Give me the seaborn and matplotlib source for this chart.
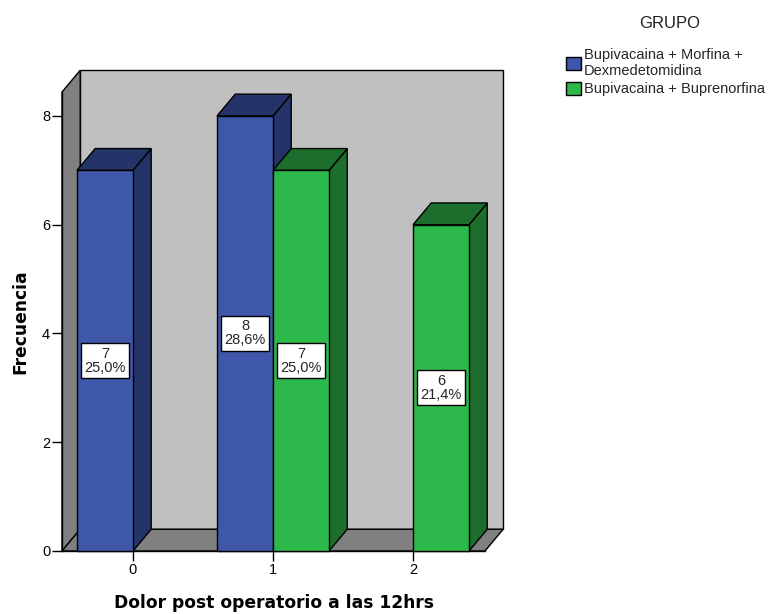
import numpy as np
import pandas as pd
import matplotlib
matplotlib.use("Agg")
import matplotlib.pyplot as plt
from matplotlib.patches import Polygon, Rectangle
from matplotlib.colors import to_rgba
import seaborn as sns

# ---- data ----
categories = ["0", "1", "2"]
groups = ["Bupivacaina + Morfina + Dexmedetomidina", "Bupivacaina + Buprenorfina"]
legend_labels = ["Bupivacaina + Morfina +\nDexmedetomidina", "Bupivacaina + Buprenorfina"]
counts_morfina = [7, 8, 0]
counts_bupren = [0, 7, 6]
yticks = [0, 2, 4, 6, 8]

# ---- style ----
front_colors = ["#3F57A8", "#2DB84B"]
dark_colors = ["#253468", "#1D6E2D"]
wall_back = "#C0C0C0"
wall_side = "#808080"

rows = []
for g, vals in zip(groups, [counts_morfina, counts_bupren]):
    for c, v in zip(categories, vals):
        if v > 0:
            rows.append({"dolor": c, "grupo": g, "freq": v})
df = pd.DataFrame(rows)
total = sum(counts_morfina) + sum(counts_bupren)

sns.set_theme(style="ticks")
plt.rcParams['font.family'] = ['Liberation Sans', 'DejaVu Sans']

fig = plt.figure(figsize=(7.72, 6.14), dpi=100)
ax = fig.add_axes([62 / 772, 1 - 551 / 614, 423 / 772, 459 / 614])

sns.barplot(data=df, x="dolor", y="freq", hue="grupo", order=categories,
            hue_order=groups, palette=front_colors, width=0.8, dodge=True,
            edgecolor="black", linewidth=1, errorbar=None, saturation=1, ax=ax)

bars = [p for p in ax.patches if isinstance(p, Rectangle) and p.get_height() > 0]
bars.sort(key=lambda p: p.get_x())

xlim = (-0.507, 2.514)
ylim = (0, 8.44)
ax.set_xlim(*xlim)
ax.set_ylim(*ylim)
dx, dy = 0.13, 0.40

x0, x1 = xlim
y0, y1 = ylim
ax.add_patch(Polygon([(x0 + dx, y0 + dy), (x1 + dx, y0 + dy), (x1 + dx, y1 + dy), (x0 + dx, y1 + dy)],
                     closed=True, fc=wall_back, ec="black", lw=1, zorder=0.5, clip_on=False))
ax.add_patch(Polygon([(x0, y0), (x0 + dx, y0 + dy), (x0 + dx, y1 + dy), (x0, y1)],
                     closed=True, fc=wall_side, ec="black", lw=1, zorder=0.6, clip_on=False))
ax.add_patch(Polygon([(x0, y0), (x1, y0), (x1 + dx, y0 + dy), (x0 + dx, y0 + dy)],
                     closed=True, fc=wall_side, ec="black", lw=1, zorder=0.6, clip_on=False))

for i, b in enumerate(bars):
    x, w, h = b.get_x(), b.get_width(), b.get_height()
    fc = b.get_facecolor()
    k = 0 if np.allclose(fc, to_rgba(front_colors[0]), atol=0.02) else 1
    dark = dark_colors[k]
    base = 3 + 2 * i
    ax.add_patch(Polygon([(x + w, 0), (x + w, h), (x + w + dx, h + dy), (x + w + dx, dy)],
                         closed=True, fc=dark, ec="black", lw=1, zorder=base, clip_on=False))
    ax.add_patch(Polygon([(x, h), (x + w, h), (x + w + dx, h + dy), (x + dx, h + dy)],
                         closed=True, fc=dark, ec="black", lw=1, zorder=base, clip_on=False))
    b.set_zorder(base + 1)
    b.set_clip_on(False)
    pct = f"{h / total * 100:.1f}%".replace(".", ",")
    ax.text(x + w / 2, h / 2, f"{int(h)}\n{pct}", ha="center", va="center",
            fontsize=10.5, linespacing=1.0, zorder=50,
            bbox=dict(boxstyle="square,pad=0.25", fc="white", ec="black", lw=1))

ax.set_yticks(yticks)
ax.tick_params(axis="both", length=7, width=1, color="black", labelsize=10.5,
               pad=1.5, labelcolor="black")
sns.despine(ax=ax)
for s in ["left", "bottom"]:
    ax.spines[s].set_color("black")
    ax.spines[s].set_linewidth(1)
    ax.spines[s].set_zorder(1)

label_font = dict(fontsize=12.3, fontweight="bold", color="black", family=["DejaVu Sans"])
ax.set_xlabel("Dolor post operatorio a las 12hrs", **label_font)
ax.set_ylabel("Frecuencia", **label_font)
ax.xaxis.set_label_coords(0.5, -0.093)
ax.yaxis.set_label_coords(-0.078, 0.5)

leg = ax.get_legend()
handles = list(leg.legend_handles)
leg.remove()
for hd in handles:
    hd.set_edgecolor("black")
    hd.set_linewidth(1)
ax.legend(handles, legend_labels, loc="upper left",
          bbox_to_anchor=(566 / 772, 1 - 48 / 614), bbox_transform=fig.transFigure,
          frameon=False, fontsize=10.5, handlelength=1.0, handleheight=1.0,
          handletextpad=0.25, labelspacing=0.25, borderpad=0, borderaxespad=0)
fig.text(670 / 772, 1 - 23 / 614, "GRUPO", ha="center", va="center", fontsize=12, color="#222222")

fig.savefig("out.png", dpi=100)
